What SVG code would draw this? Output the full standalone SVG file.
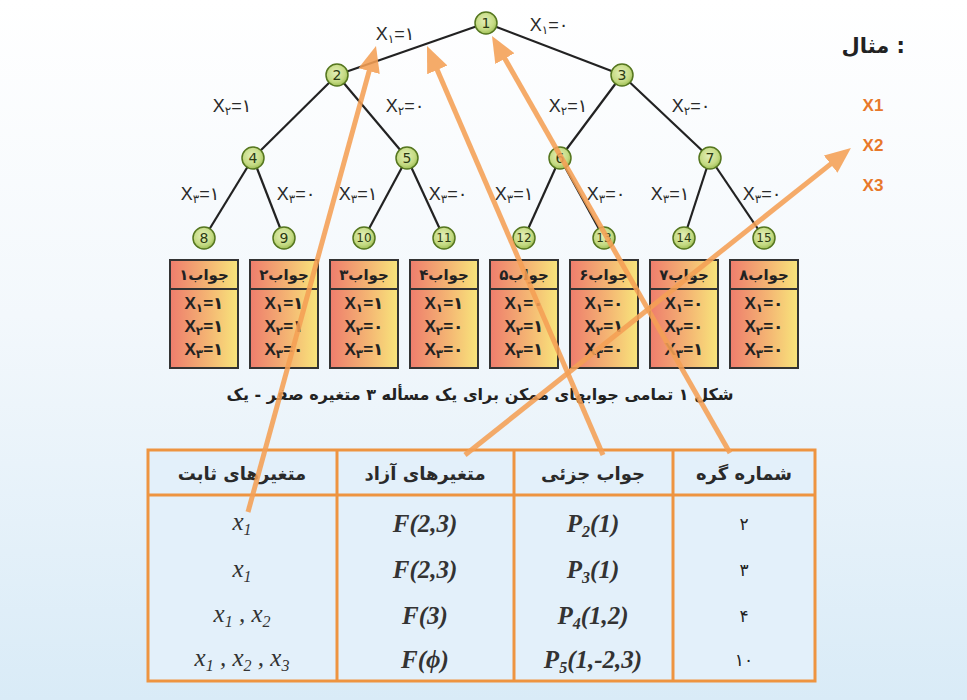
<svg xmlns="http://www.w3.org/2000/svg" width="967" height="700" viewBox="0 0 967 700">
<defs>
<linearGradient id="bg" x1="0" y1="0" x2="0" y2="1">
<stop offset="0" stop-color="#ffffff"/>
<stop offset="0.45" stop-color="#f3f8fc"/>
<stop offset="1" stop-color="#d9ebf7"/>
</linearGradient>
<linearGradient id="boxg" x1="0" y1="0" x2="1" y2="0">
<stop offset="0" stop-color="#ee7d6d"/>
<stop offset="0.55" stop-color="#f4b473"/>
<stop offset="1" stop-color="#f8e57b"/>
</linearGradient>
<radialGradient id="ng" cx="0.45" cy="0.4" r="0.6">
<stop offset="0" stop-color="#e4efb8"/>
<stop offset="0.7" stop-color="#c4da82"/>
<stop offset="1" stop-color="#9fbf55"/>
</radialGradient>
<marker id="ah" markerUnits="userSpaceOnUse" markerWidth="28" markerHeight="24" refX="6" refY="11" orient="auto">
<path d="M0,0 L26,11 L0,22 z" fill="#f5a055"/>
</marker>
<style>
.edge{stroke:#222;stroke-width:2.2;fill:none}
.arrow{stroke:#f5a055;stroke-width:5;fill:none;marker-end:url(#ah);opacity:0.88}
.node circle{fill:url(#ng);stroke:#55761f;stroke-width:1.5}
.node text{font-family:"DejaVu Sans",sans-serif;font-size:14px;fill:#2c3a12;text-anchor:middle;dominant-baseline:central}
.node text.s{font-size:12px}
.lbl{font-family:"Liberation Sans","DejaVu Sans",sans-serif;font-size:18px;fill:#2a2a2a;text-anchor:middle}
.sb{font-size:12px}
.box rect{fill:url(#boxg);stroke:#333;stroke-width:2}
.box line{stroke:#333;stroke-width:2}
.bh{font-family:"DejaVu Sans",sans-serif;font-weight:bold;font-size:15px;fill:#222;text-anchor:middle;direction:rtl}
.bt{font-family:"Liberation Sans","DejaVu Sans",sans-serif;font-weight:bold;font-size:17px;fill:#222;text-anchor:middle}
.fa{font-family:"DejaVu Sans",sans-serif;font-weight:bold;fill:#222}
.th{font-family:"DejaVu Sans",sans-serif;font-weight:bold;font-size:18px;fill:#2a2a2a;text-anchor:middle;direction:rtl}
.td{font-family:"Liberation Serif",serif;font-style:italic;font-size:25px;fill:#333;text-anchor:middle}
.tdb{font-weight:bold}
.tn{font-family:"DejaVu Sans",sans-serif;font-size:17px;fill:#222;text-anchor:middle}
.tl{stroke:#ee9440;stroke-width:3;fill:none}
.xo{font-family:"Liberation Sans",sans-serif;font-weight:bold;font-size:17px;fill:#e8782a;text-anchor:middle}
</style>
</defs>
<rect x="0" y="0" width="967" height="700" fill="url(#bg)"/>

<g id="connectors">
<line class="edge" x1="486" y1="23" x2="337" y2="75"/>
<line class="edge" x1="486" y1="23" x2="622" y2="75"/>
<line class="edge" x1="337" y1="75" x2="253" y2="158"/>
<line class="edge" x1="337" y1="75" x2="407" y2="158"/>
<line class="edge" x1="622" y1="75" x2="560" y2="158"/>
<line class="edge" x1="622" y1="75" x2="710" y2="158"/>
<line class="edge" x1="253" y1="158" x2="204" y2="238"/>
<line class="edge" x1="253" y1="158" x2="284" y2="238"/>
<line class="edge" x1="407" y1="158" x2="364" y2="238"/>
<line class="edge" x1="407" y1="158" x2="444" y2="238"/>
<line class="edge" x1="560" y1="158" x2="524" y2="238"/>
<line class="edge" x1="560" y1="158" x2="604" y2="238"/>
<line class="edge" x1="710" y1="158" x2="684" y2="238"/>
<line class="edge" x1="710" y1="158" x2="764" y2="238"/>
</g>

<g id="edge-labels">
<text class="lbl" x="395" y="40">X<tspan class="sb" dy="3">۱</tspan><tspan dy="-3">=۱</tspan></text>
<text class="lbl" x="549" y="31">X<tspan class="sb" dy="3">۱</tspan><tspan dy="-3">=۰</tspan></text>
<text class="lbl" x="232" y="112">X<tspan class="sb" dy="3">۲</tspan><tspan dy="-3">=۱</tspan></text>
<text class="lbl" x="405" y="112">X<tspan class="sb" dy="3">۲</tspan><tspan dy="-3">=۰</tspan></text>
<text class="lbl" x="568" y="112">X<tspan class="sb" dy="3">۲</tspan><tspan dy="-3">=۱</tspan></text>
<text class="lbl" x="691" y="112">X<tspan class="sb" dy="3">۲</tspan><tspan dy="-3">=۰</tspan></text>
<text class="lbl" x="200" y="200">X<tspan class="sb" dy="3">۳</tspan><tspan dy="-3">=۱</tspan></text>
<text class="lbl" x="296" y="200">X<tspan class="sb" dy="3">۳</tspan><tspan dy="-3">=۰</tspan></text>
<text class="lbl" x="358" y="200">X<tspan class="sb" dy="3">۳</tspan><tspan dy="-3">=۱</tspan></text>
<text class="lbl" x="448" y="200">X<tspan class="sb" dy="3">۳</tspan><tspan dy="-3">=۰</tspan></text>
<text class="lbl" x="514" y="200">X<tspan class="sb" dy="3">۳</tspan><tspan dy="-3">=۱</tspan></text>
<text class="lbl" x="606" y="200">X<tspan class="sb" dy="3">۳</tspan><tspan dy="-3">=۰</tspan></text>
<text class="lbl" x="670" y="200">X<tspan class="sb" dy="3">۳</tspan><tspan dy="-3">=۱</tspan></text>
<text class="lbl" x="762" y="200">X<tspan class="sb" dy="3">۳</tspan><tspan dy="-3">=۰</tspan></text>
</g>

<g id="n1" class="node"><circle cx="486" cy="23" r="11"/><text x="486" y="23">1</text></g>
<g id="n2" class="node"><circle cx="337" cy="75" r="11"/><text x="337" y="75">2</text></g>
<g id="n3" class="node"><circle cx="622" cy="75" r="11"/><text x="622" y="75">3</text></g>
<g id="n4" class="node"><circle cx="253" cy="158" r="11"/><text x="253" y="158">4</text></g>
<g id="n5" class="node"><circle cx="407" cy="158" r="11"/><text x="407" y="158">5</text></g>
<g id="n6" class="node"><circle cx="560" cy="158" r="11"/><text x="560" y="158">6</text></g>
<g id="n7" class="node"><circle cx="710" cy="158" r="11"/><text x="710" y="158">7</text></g>
<g id="n8" class="node"><circle cx="204" cy="238" r="11"/><text x="204" y="238">8</text></g>
<g id="n9" class="node"><circle cx="284" cy="238" r="11"/><text x="284" y="238">9</text></g>
<g id="n10" class="node"><circle cx="364" cy="238" r="11"/><text class="s" x="364" y="238">10</text></g>
<g id="n11" class="node"><circle cx="444" cy="238" r="11"/><text class="s" x="444" y="238">11</text></g>
<g id="n12" class="node"><circle cx="524" cy="238" r="11"/><text class="s" x="524" y="238">12</text></g>
<g id="n13" class="node"><circle cx="604" cy="238" r="11"/><text class="s" x="604" y="238">13</text></g>
<g id="n14" class="node"><circle cx="684" cy="238" r="11"/><text class="s" x="684" y="238">14</text></g>
<g id="n15" class="node"><circle cx="764" cy="238" r="11"/><text class="s" x="764" y="238">15</text></g>

<g id="box1" class="box"><rect x="170" y="260" width="68" height="108"/><line x1="170" y1="289" x2="238" y2="289"/>
<text class="bh" x="204" y="280">جواب۱</text>
<text class="bt" x="204" y="309">X<tspan class="sb" dy="3">۱</tspan><tspan dy="-3">=۱</tspan></text>
<text class="bt" x="204" y="332">X<tspan class="sb" dy="3">۲</tspan><tspan dy="-3">=۱</tspan></text>
<text class="bt" x="204" y="355">X<tspan class="sb" dy="3">۳</tspan><tspan dy="-3">=۱</tspan></text></g>
<g id="box2" class="box"><rect x="250" y="260" width="68" height="108"/><line x1="250" y1="289" x2="318" y2="289"/>
<text class="bh" x="284" y="280">جواب۲</text>
<text class="bt" x="284" y="309">X<tspan class="sb" dy="3">۱</tspan><tspan dy="-3">=۱</tspan></text>
<text class="bt" x="284" y="332">X<tspan class="sb" dy="3">۲</tspan><tspan dy="-3">=۱</tspan></text>
<text class="bt" x="284" y="355">X<tspan class="sb" dy="3">۳</tspan><tspan dy="-3">=۰</tspan></text></g>
<g id="box3" class="box"><rect x="330" y="260" width="68" height="108"/><line x1="330" y1="289" x2="398" y2="289"/>
<text class="bh" x="364" y="280">جواب۳</text>
<text class="bt" x="364" y="309">X<tspan class="sb" dy="3">۱</tspan><tspan dy="-3">=۱</tspan></text>
<text class="bt" x="364" y="332">X<tspan class="sb" dy="3">۲</tspan><tspan dy="-3">=۰</tspan></text>
<text class="bt" x="364" y="355">X<tspan class="sb" dy="3">۳</tspan><tspan dy="-3">=۱</tspan></text></g>
<g id="box4" class="box"><rect x="410" y="260" width="68" height="108"/><line x1="410" y1="289" x2="478" y2="289"/>
<text class="bh" x="444" y="280">جواب۴</text>
<text class="bt" x="444" y="309">X<tspan class="sb" dy="3">۱</tspan><tspan dy="-3">=۱</tspan></text>
<text class="bt" x="444" y="332">X<tspan class="sb" dy="3">۲</tspan><tspan dy="-3">=۰</tspan></text>
<text class="bt" x="444" y="355">X<tspan class="sb" dy="3">۳</tspan><tspan dy="-3">=۰</tspan></text></g>
<g id="box5" class="box"><rect x="490" y="260" width="68" height="108"/><line x1="490" y1="289" x2="558" y2="289"/>
<text class="bh" x="524" y="280">جواب۵</text>
<text class="bt" x="524" y="309">X<tspan class="sb" dy="3">۱</tspan><tspan dy="-3">=۰</tspan></text>
<text class="bt" x="524" y="332">X<tspan class="sb" dy="3">۲</tspan><tspan dy="-3">=۱</tspan></text>
<text class="bt" x="524" y="355">X<tspan class="sb" dy="3">۳</tspan><tspan dy="-3">=۱</tspan></text></g>
<g id="box6" class="box"><rect x="570" y="260" width="68" height="108"/><line x1="570" y1="289" x2="638" y2="289"/>
<text class="bh" x="604" y="280">جواب۶</text>
<text class="bt" x="604" y="309">X<tspan class="sb" dy="3">۱</tspan><tspan dy="-3">=۰</tspan></text>
<text class="bt" x="604" y="332">X<tspan class="sb" dy="3">۲</tspan><tspan dy="-3">=۱</tspan></text>
<text class="bt" x="604" y="355">X<tspan class="sb" dy="3">۳</tspan><tspan dy="-3">=۰</tspan></text></g>
<g id="box7" class="box"><rect x="650" y="260" width="68" height="108"/><line x1="650" y1="289" x2="718" y2="289"/>
<text class="bh" x="684" y="280">جواب۷</text>
<text class="bt" x="684" y="309">X<tspan class="sb" dy="3">۱</tspan><tspan dy="-3">=۰</tspan></text>
<text class="bt" x="684" y="332">X<tspan class="sb" dy="3">۲</tspan><tspan dy="-3">=۰</tspan></text>
<text class="bt" x="684" y="355">X<tspan class="sb" dy="3">۳</tspan><tspan dy="-3">=۱</tspan></text></g>
<g id="box8" class="box"><rect x="730" y="260" width="68" height="108"/><line x1="730" y1="289" x2="798" y2="289"/>
<text class="bh" x="764" y="280">جواب۸</text>
<text class="bt" x="764" y="309">X<tspan class="sb" dy="3">۱</tspan><tspan dy="-3">=۰</tspan></text>
<text class="bt" x="764" y="332">X<tspan class="sb" dy="3">۲</tspan><tspan dy="-3">=۰</tspan></text>
<text class="bt" x="764" y="355">X<tspan class="sb" dy="3">۳</tspan><tspan dy="-3">=۰</tspan></text></g>

<g id="caption">
<text class="fa" x="480" y="400" font-size="16" text-anchor="middle" direction="rtl">شکل ۱  تمامی جوابهای ممکن برای یک مسأله ۳ متغیره صفر - یک</text>
</g>

<g id="example">
<text class="fa" x="905" y="53" font-size="21" text-anchor="end">مثال :</text>
<text class="xo" x="873" y="111">X1</text>
<text class="xo" x="873" y="151">X2</text>
<text class="xo" x="873" y="191">X3</text>
</g>

<g id="table">
<rect x="148" y="450" width="667" height="231" fill="#e3f0fa"/>
<rect class="tl" x="148" y="450" width="667" height="231"/>
<line class="tl" x1="148" y1="495" x2="815" y2="495"/>
<line class="tl" x1="337" y1="450" x2="337" y2="681"/>
<line class="tl" x1="514" y1="450" x2="514" y2="681"/>
<line class="tl" x1="673" y1="450" x2="673" y2="681"/>
<text class="th" x="242" y="480">متغیرهای ثابت</text>
<text class="th" x="425" y="480">متغیرهای آزاد</text>
<text class="th" x="593" y="480">جواب جزئی</text>
<text class="th" x="744" y="480">شماره گره</text>
<text class="td" x="242" y="530">x<tspan font-size="16" dy="5">1</tspan></text>
<text class="td" x="242" y="577">x<tspan font-size="16" dy="5">1</tspan></text>
<text class="td" x="242" y="622">x<tspan font-size="16" dy="5">1</tspan><tspan dy="-5"> , x</tspan><tspan font-size="16" dy="5">2</tspan></text>
<text class="td" x="242" y="666">x<tspan font-size="16" dy="5">1</tspan><tspan dy="-5"> , x</tspan><tspan font-size="16" dy="5">2</tspan><tspan dy="-5"> , x</tspan><tspan font-size="16" dy="5">3</tspan></text>
<text class="td tdb" x="425" y="532">F(2,3)</text>
<text class="td tdb" x="425" y="578">F(2,3)</text>
<text class="td tdb" x="425" y="624">F(3)</text>
<text class="td tdb" x="425" y="668">F(ϕ)</text>
<text class="td tdb" x="593" y="532">P<tspan font-size="16" dy="5">2</tspan><tspan dy="-5">(1)</tspan></text>
<text class="td tdb" x="593" y="578">P<tspan font-size="16" dy="5">3</tspan><tspan dy="-5">(1)</tspan></text>
<text class="td tdb" x="593" y="624">P<tspan font-size="16" dy="5">4</tspan><tspan dy="-5">(1,2)</tspan></text>
<text class="td tdb" x="593" y="668">P<tspan font-size="16" dy="5">5</tspan><tspan dy="-5">(1,-2,3)</tspan></text>
<text class="tn" x="744" y="530">۲</text>
<text class="tn" x="744" y="576">۳</text>
<text class="tn" x="744" y="622">۴</text>
<text class="tn" x="744" y="666">۱۰</text>
</g>

<g id="arrows">
<line class="arrow" x1="248" y1="512" x2="370.7" y2="65.3"/>
<line class="arrow" x1="465" y1="455" x2="835.3" y2="160.4"/>
<line class="arrow" x1="603" y1="455" x2="434.9" y2="64.4"/>
<line class="arrow" x1="730" y1="453" x2="501.9" y2="53.4"/>
</g>
</svg>
